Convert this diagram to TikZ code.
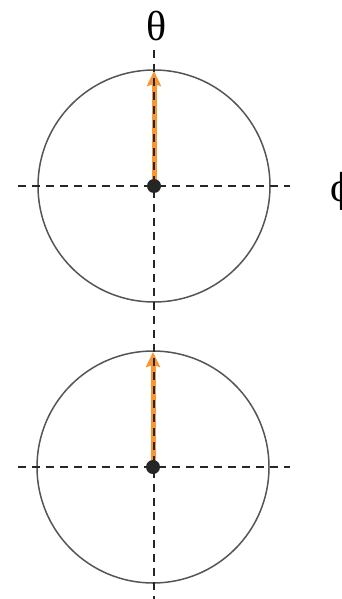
\documentclass[tikz,border=0pt]{standalone}
\usepackage{fontspec}
\setmainfont{Liberation Serif}
\usetikzlibrary{arrows.meta}
\definecolor{arrorange}{RGB}{247,150,50}
\definecolor{ringgray}{RGB}{85,85,85}
\begin{document}
\begin{tikzpicture}[x=1pt,y=-1pt,
  ring/.style={draw=ringgray,line width=1.5pt},
  axis/.style={draw=black!85,line width=1.3pt,dash pattern=on 8pt off 6pt},
  vec/.style={draw=arrorange,line width=5pt,-{Stealth[length=15pt,width=14pt,inset=2pt]}},
  dot/.style={circle,fill=black!85,inner sep=0pt,minimum size=14pt},
  lbl/.style={font=\fontsize{42}{46}\selectfont,inner sep=0pt}]
\useasboundingbox (0,0) rectangle (341,599);
\clip (0,0) rectangle (341,599);
% centres
\coordinate (c1) at (154,186);
\coordinate (c2) at (153,467);
% circles
\draw[ring] (c1) circle (116);
\draw[ring] (c2) circle (116);
% vectors
\coordinate (t1) at (154,71);
\coordinate (t2) at (153,352);
\draw[vec] (c1) -- (t1);
\draw[vec] (c2) -- (t2);
% axes
\coordinate (vt) at (154,50);
\coordinate (vb) at (154,599);
\coordinate (h1l) at (18,186);
\coordinate (h1r) at (290,186);
\coordinate (h2l) at (18,467);
\coordinate (h2r) at (290,467);
\draw[axis] (vt) -- (vb);
\draw[axis] (h1l) -- (h1r);
\draw[axis] (h2l) -- (h2r);
% dots
\node[dot] (d1) at (c1) {};
\node[dot] (d2) at (c2) {};
% labels
\node[lbl] (theta) at (157,26) {θ};
\node[lbl] (phi) at (342,191) {ϕ};
\end{tikzpicture}
\end{document}
